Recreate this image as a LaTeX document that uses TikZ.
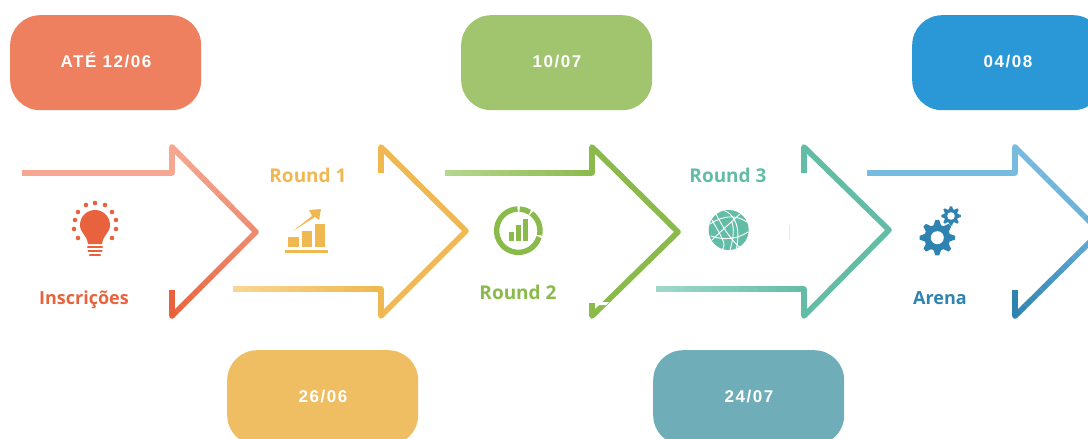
\documentclass[tikz,border=0pt]{standalone}
\usepackage{fontspec}
\setmainfont{Open Sans}
\newfontfamily\datefont[LetterSpace=9]{Liberation Sans}
\usetikzlibrary{calc}
\definecolor{cA}{HTML}{EE7F5F}\definecolor{cB}{HTML}{EFBE63}\definecolor{cC}{HTML}{A1C56F}
\definecolor{cD}{HTML}{6FADB8}\definecolor{cE}{HTML}{2A97D6}
\definecolor{rO}{HTML}{E8633D}\definecolor{rY}{HTML}{EFB850}\definecolor{rG}{HTML}{8ABB4A}
\definecolor{rT}{HTML}{63BDA6}\definecolor{rB}{HTML}{2E83B0}
\definecolor{rOa}{HTML}{F6A791}\definecolor{rOb}{HTML}{EE8B70}
\definecolor{rYa}{HTML}{F8D692}\definecolor{rGa}{HTML}{B6D78F}\definecolor{rTa}{HTML}{A0D8CB}
\definecolor{rBa}{HTML}{78BBE0}\definecolor{rBb}{HTML}{68AED6}
\tikzset{
  datetext/.style={inner sep=0pt,text=white,text height=11.7pt,text depth=0pt,font=\datefont\fontsize{17}{19}\selectfont\bfseries},
  datebox/.style={rounded corners=30pt,inner sep=0pt,minimum width=191pt,minimum height=95pt,anchor=north west},
  steplabel/.style={inner sep=0pt,font=\fontsize{18}{20}\selectfont\bfseries},
  roundlabel/.style={inner sep=0pt,font=\fontsize{19}{21}\selectfont\bfseries},
  arrowline/.style={line width=5.6pt,line cap=butt,line join=round}
}
% gradient segment: from, to, colour from, colour to
\newcommand{\gradseg}[4]{%
  \foreach \gi in {1,...,16}{%
    \pgfmathsetmacro{\ga}{(\gi-1)/16}\pgfmathsetmacro{\gb}{\gi/16}\pgfmathsetmacro{\gp}{100*(\gi-0.5)/16}%
    \draw[arrowline,#4!\gp!#3] ($(#1)!\ga!(#2)$) -- ($(#1)!\gb!(#2)$);
  }%
  \fill[#4] (#2) circle (2.8pt);%
}
\begin{document}
\begin{tikzpicture}[x=1pt,y=-1pt]
\useasboundingbox (0,0) rectangle (1088,439);
\begin{scope}
\clip (0,0) rectangle (1088,439);
% boxes
\node[datebox,fill=cA] (b1) at (10,15) {};
\node[datebox,fill=cC] (b3) at (461,15) {};
\node[datebox,fill=cE] (b5) at (912,15) {};
\node[datebox,fill=cB] (b2) at (227,350) {};
\node[datebox,fill=cD] (b4) at (653,350) {};
\node[datetext] (t1) at (106,61.5) {ATÉ 12/06};
\node[datetext] (t3) at (557,61.5) {10/07};
\node[datetext] (t5) at (1008,61.5) {04/08};
\node[datetext] (t2) at (323,397) {26/06};
\node[datetext] (t4) at (749,397) {24/07};

% arrow 1
\coordinate (a1)at(22,173);\coordinate (a2)at(172,173);\coordinate (a3)at(172,147);\coordinate (a4)at(256,232);\coordinate (a5)at(172,316);\coordinate (a6)at(172,290);
\draw[arrowline,rOa] (a1) -- (a2);
\fill[rOa] (a2) circle (2.8pt);
\gradseg{a2}{a3}{rOa}{rOa}
\gradseg{a3}{a4}{rOa}{rOb}
\gradseg{a4}{a5}{rOb}{rO}
\draw[arrowline,rO] (a5) -- (a6);
% arrow 2
\coordinate (c1)at(233,289);\coordinate (c2)at(381,289);\coordinate (c3)at(381,316);\coordinate (c4)at(466,231);\coordinate (c5)at(381,147);\coordinate (c6)at(381,173);
\gradseg{c1}{c2}{rYa}{rY}
\draw[arrowline,rY] (c2) -- (c3) -- (c4) -- (c5) -- (c6);
% arrow 3
\coordinate (d1)at(445,173);\coordinate (d2)at(592,173);\coordinate (d3)at(592,147);\coordinate (d4)at(678,232);\coordinate (d5)at(592,316);\coordinate (d6)at(592,303);
\gradseg{d1}{d2}{rGa}{rG}
\draw[arrowline,rG] (d2) -- (d3) -- (d4) -- (d5) -- (d6);
\fill[white] (599,302) -- (609,302) -- (606,305) -- (599,305) -- cycle;
% arrow 4
\coordinate (e1)at(656,289);\coordinate (e2)at(804,289);\coordinate (e3)at(804,316);\coordinate (e4)at(889,230);\coordinate (e5)at(804,147);\coordinate (e6)at(804,173);
\gradseg{e1}{e2}{rTa}{rT}
\draw[arrowline,rT] (e2) -- (e3) -- (e4) -- (e5) -- (e6);
% arrow 5
\coordinate (f1)at(867,173);\coordinate (f2)at(1015,173);\coordinate (f3)at(1015,147);\coordinate (f4)at(1100,232);\coordinate (f5)at(1015,316);\coordinate (f6)at(1015,290);
\draw[arrowline,rBa] (f1) -- (f2);
\fill[rBa] (f2) circle (2.8pt);
\gradseg{f2}{f3}{rBa}{rBa}
\gradseg{f3}{f4}{rBa}{rBb}
\gradseg{f4}{f5}{rBb}{rB}
\draw[arrowline,rB] (f5) -- (f6);
\end{scope}

% labels
\node[steplabel,text=rO] (l1) at (84,299.5) {Inscrições};
\node[roundlabel,text=rY] (l2) at (308,175) {Round 1};
\node[roundlabel,text=rG] (l3) at (518,292) {Round 2};
\node[roundlabel,text=rT] (l4) at (728,175) {Round 3};
\node[steplabel,text=rB] (l5) at (940,298) {Arena};

% bulb icon
\fill[rO] (88,244) .. controls (87,235) and (80,233) .. (80,225) arc (180:360:15) .. controls (110,233) and (103,235) .. (102,244) -- cycle;
\foreach \yy/\ww in {247/7,251/6.5,255/5}{\draw[rO,line width=2.2pt,line cap=round] (95-\ww,\yy) -- (95+\ww,\yy);}
\foreach \px/\py in {95/203,86/205,105/205,78/212,112/212,75/220,116/220,74/229,116/229,78/238,112/238}{\fill[rO] (\px,\py) circle (2.3pt);}

% chart icon
\fill[rY] (285,249.5) rectangle (328,252.5);
\fill[rY] (288.3,236.7) rectangle (298.7,247);
\fill[rY] (301.7,230.7) rectangle (312,247);
\fill[rY] (314.7,224.3) rectangle (325.3,247);
\fill[rY] (293,231) -- (312,216) -- (309,210) -- (321,209) -- (319,220) -- (315,217) -- cycle;

% donut icon
\begin{scope}[shift={(518.3,230.7)},y=1pt]
\draw[rG,line width=5.4pt] (86:21.7) arc (86:58:21.7);
\draw[rG,line width=5.4pt] (53:21.7) arc (53:-12:21.7);
\draw[rG,line width=5.4pt] (-17:21.7) arc (-17:-268:21.7);
\end{scope}
\fill[rG] (509,231.7) rectangle (513.7,240.7);
\fill[rG] (515.7,225) rectangle (521,240.7);
\fill[rG] (523,219.3) rectangle (528.3,240.7);

% globe icon
\fill[rT] (728.7,230) circle (20);
\begin{scope}
\clip (728.7,230) circle (20);
\draw[white,line width=0.9pt]
  (710,224) .. controls (722,216) and (735,214) .. (747,222)
  (712,240) .. controls (722,230) and (736,218) .. (742,212)
  (716,214) .. controls (722,226) and (732,242) .. (742,249)
  (722,210) .. controls (733,212) and (742,226) .. (736,250)
  (712,220) .. controls (722,238) and (727,244) .. (722,250)
  (711,236) .. controls (722,240) and (736,240) .. (748,232)
  (732,222) .. controls (734,228) and (734,236) .. (730,250);
\end{scope}

% gears
\newcommand{\gearicon}[5]{% x,y,outer,inner,hole
  \fill[rB] ($(#1,#2)+(-17:#4)$)
    \foreach \ga in {0,45,...,315}{ -- ($(#1,#2)+(\ga-17:#4)$) -- ($(#1,#2)+(\ga-6:#3)$) -- ($(#1,#2)+(\ga+6:#3)$) -- ($(#1,#2)+(\ga+17:#4)$)}
    -- cycle;
  \fill[white] (#1,#2) circle (#5);
}
\gearicon{937.3}{237.7}{17.8}{13}{6.5}
\gearicon{951}{216}{9.8}{7}{3.8}
\draw[rTa!40,line width=0.6pt] (789,225) -- (789,240);
\end{tikzpicture}
\end{document}
